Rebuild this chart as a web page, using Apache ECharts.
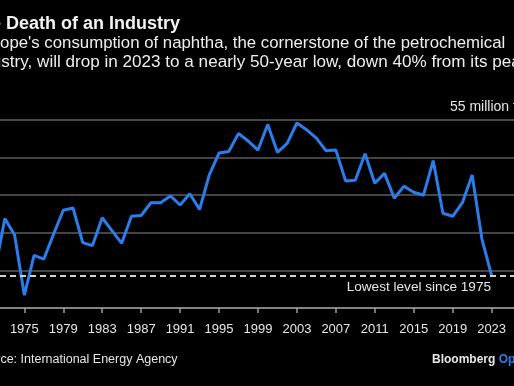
<!DOCTYPE html>
<html>
<head>
<meta charset="utf-8">
<script src="https://cdn.jsdelivr.net/npm/echarts@6/dist/echarts.min.js"></script>
<style>
html,body{margin:0;padding:0;background:#000;}
#chart{width:514px;height:386px;}
</style>
</head>
<body>
<div id="chart"></div>
<script>
var years = [1972,1973,1974,1975,1976,1977,1978,1979,1980,1981,1982,1983,1984,1985,1986,1987,1988,1989,1990,1991,1992,1993,1994,1995,1996,1997,1998,1999,2000,2001,2002,2003,2004,2005,2006,2007,2008,2009,2010,2011,2012,2013,2014,2015,2016,2017,2018,2019,2020,2021,2022,2023];
var consumption = [35.1,41.9,39.7,31.7,37.0,36.5,39.8,43.0,43.3,38.7,38.3,42.0,40.3,38.6,42.2,42.3,44.0,44.0,44.9,43.7,45.2,43.1,47.7,50.6,50.8,53.2,52.2,51.0,54.4,50.7,51.9,54.6,53.7,52.6,50.9,51.0,46.9,47.0,50.5,46.6,47.9,44.6,46.2,45.4,45.0,49.6,42.6,42.2,44.0,47.7,39.2,34.3];
var tickYears = [1975,1979,1983,1987,1991,1995,1999,2003,2007,2011,2015,2019,2023];
var lowestLevel = 34.3;

var chart = echarts.init(document.getElementById('chart'));
var FONT = 'Arial, "Liberation Sans", sans-serif';
var seriesData = years.map(function(y, i){ return [y, consumption[i]]; });

function txt(x, y, text, font, fill, align) {
  return {type: 'text', x: x, y: y, style: {text: text, font: font, fill: fill, align: align || 'left', verticalAlign: 'middle'}};
}

chart.setOption({
  backgroundColor: '#000',
  animation: false,
  grid: {left: 0, right: 0, top: 120, bottom: 78},
  xAxis: {
    type: 'value', min: 1972.5, max: 2025.3,
    splitLine: {show: false},
    axisLine: {lineStyle: {color: '#9a9a9a', width: 1.5}},
    axisTick: {show: true, customValues: tickYears, length: 5, lineStyle: {color: '#9a9a9a', width: 1.5}},
    axisLabel: {customValues: tickYears, color: '#e6e6e6', fontSize: 13, fontFamily: FONT, margin: 15,
      formatter: function(v){ return String(v); }}
  },
  yAxis: {
    type: 'value', min: 30, max: 55, interval: 5,
    axisLine: {show: false}, axisTick: {show: false}, axisLabel: {show: false},
    splitLine: {lineStyle: {color: '#5c5c5c', width: 1.5}}
  },
  series: [{
    type: 'line', data: seriesData, symbol: 'none', clip: true,
    lineStyle: {color: '#2b7de9', width: 3},
    markLine: {
      silent: true, symbol: 'none', label: {show: false},
      lineStyle: {color: '#d0d0d0', type: [6, 4], width: 2},
      data: [{yAxis: lowestLevel}]
    }
  }],
  graphic: [
    txt(-31, 24, 'The Death of an Industry', 'bold 18px ' + FONT, '#f2f2f2'),
    txt(-26, 43, "Europe's consumption of naphtha, the cornerstone of the petrochemical", '16.8px ' + FONT, '#eeeeee'),
    txt(-31, 62, 'industry, will drop in 2023 to a nearly 50-year low, down 40% from its peak', '17.1px ' + FONT, '#eeeeee'),
    txt(450, 107, '55 million tons', '14px ' + FONT, '#e6e6e6'),
    txt(491, 287, 'Lowest level since 1975', '13.6px ' + FONT, '#e6e6e6', 'right'),
    txt(-26, 360, 'Source: International Energy Agency', '12.5px ' + FONT, '#e6e6e6'),
    {type: 'text', x: 432, y: 360, style: {
      text: '{a|Bloomberg }{b|Opinion}', verticalAlign: 'middle',
      rich: {a: {fill: '#e6e6e6', font: 'bold 12px ' + FONT}, b: {fill: '#2b7de9', font: 'bold 12px ' + FONT}}
    }}
  ]
});
</script>
</body>
</html>
